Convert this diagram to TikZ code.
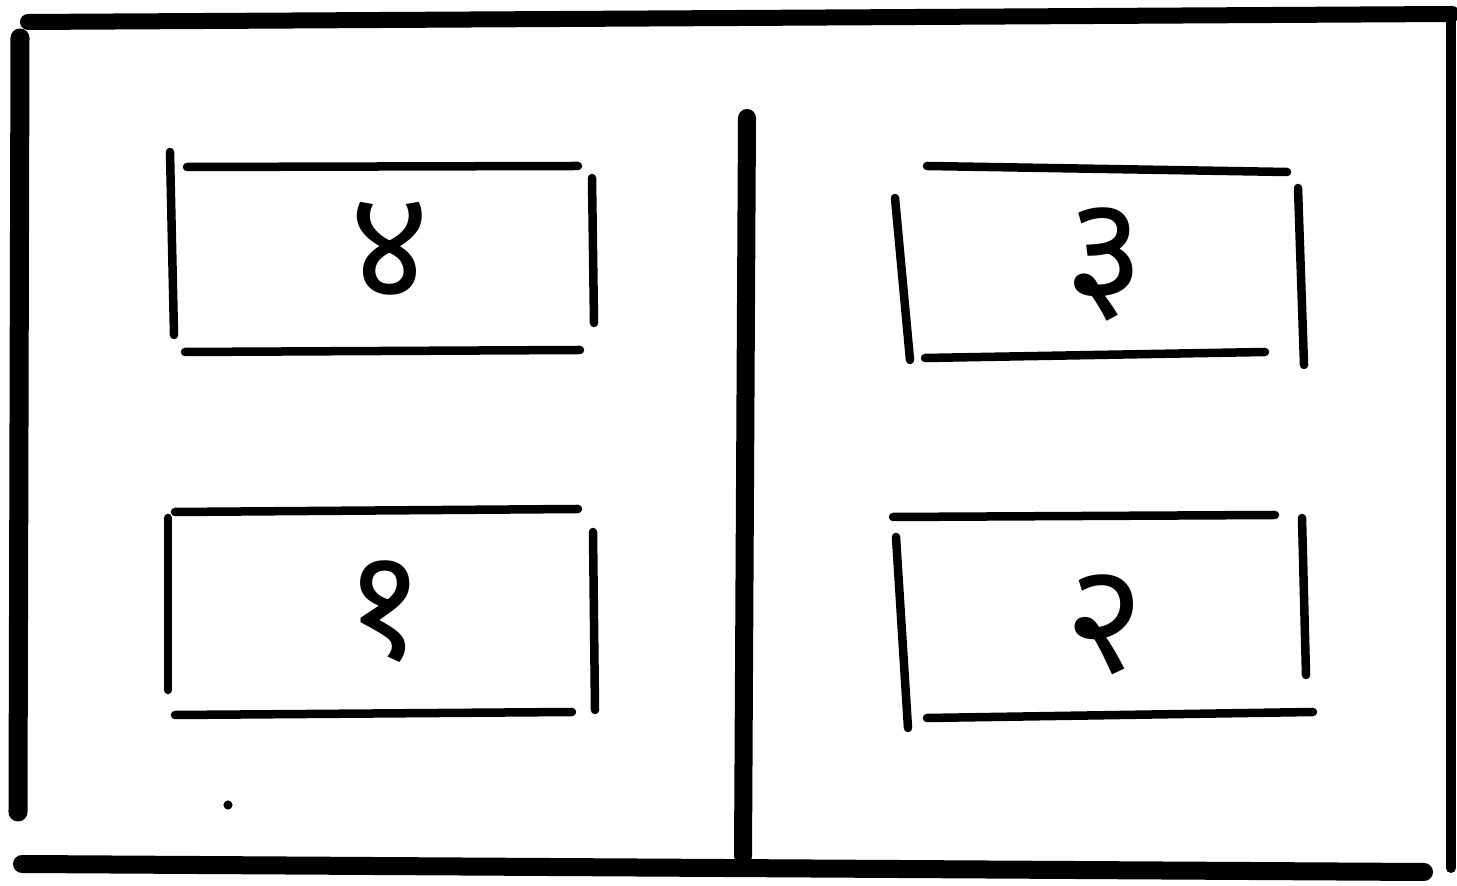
\documentclass[tikz,border=0pt]{standalone}
\usepackage{fontspec}
\newfontfamily\deva[Script=Devanagari]{Noto Sans}
\tikzset{
  frameline/.style={line width=16*0.2845pt, line cap=round},
  boxline/.style={line width=8.5*0.2845pt, line cap=round},
  digit/.style={font=\deva\bfseries\fontsize{44}{46}\selectfont, inner sep=0pt}
}
\begin{document}
\begin{tikzpicture}[x=0.01cm, y=-0.01cm]
\useasboundingbox (0,0) rectangle (1457,886);
% outer frame
\draw[frameline] (28,22) -- (1452,14);
\draw[frameline, line width=19*0.2845pt] (20,38) -- (18,812);
\draw[frameline, line width=10*0.2845pt] (1451,12) -- (1451,868);
\draw[frameline, line width=18*0.2845pt] (22,864) -- (1424,872);
% central divider
\draw[frameline, line width=18*0.2845pt] (747,118) -- (743,856);
% top-left box
\draw[boxline] (187,167) -- (578,166);
\draw[boxline] (170,152) -- (174,335);
\draw[boxline] (592,178) -- (594,323);
\draw[boxline] (185,352) -- (580,350);
% bottom-left box
\draw[boxline] (175,512) -- (578,509);
\draw[boxline] (168,518) -- (168,690);
\draw[boxline] (593,532) -- (595,710);
\draw[boxline] (175,715) -- (572,712);
% top-right box
\draw[boxline] (927,166) -- (1287,172);
\draw[boxline] (895,198) -- (910,360);
\draw[boxline] (1298,188) -- (1304,365);
\draw[boxline] (925,358) -- (1265,352);
% bottom-right box
\draw[boxline] (893,517) -- (1275,515);
\draw[boxline] (896,537) -- (908,728);
\draw[boxline] (1302,518) -- (1306,675);
\draw[boxline] (927,718) -- (1313,712);
% stray dot
\fill (228,805) circle (1.3pt);
% digits
\node[digit] (p4) at (390,250) {४};
\node[digit] (p1) at (385,612) {१};
\node[digit] (p3) at (1105,265) {३};
\node[digit] (p2) at (1105,625) {२};
\end{tikzpicture}
\end{document}
